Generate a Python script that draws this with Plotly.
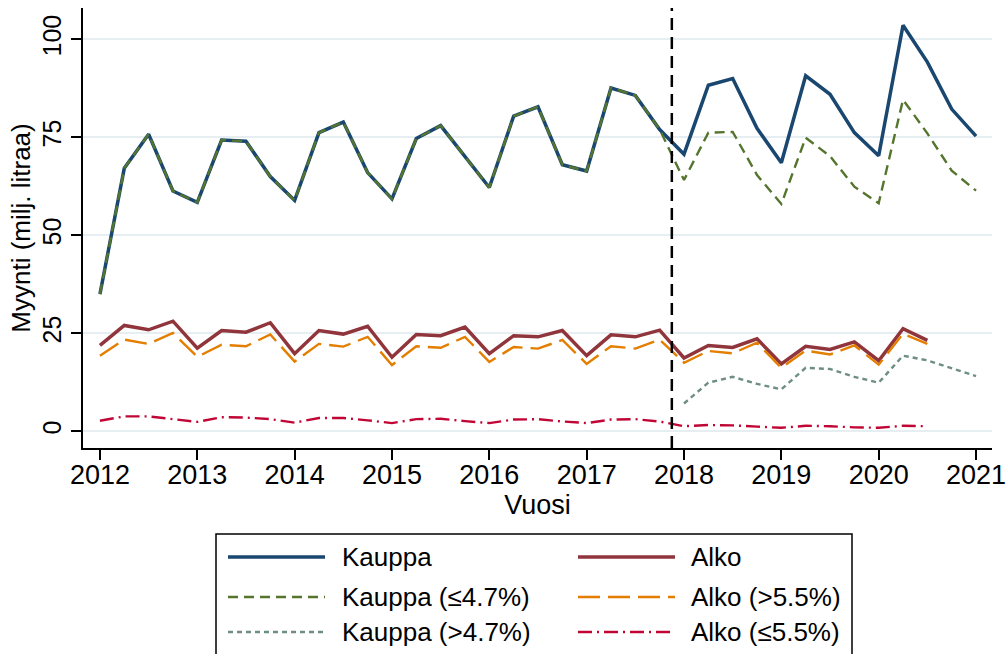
import plotly.graph_objects as go

# ---------------- data (quarterly, million litres) ----------------
quarters = [2012 + q / 4 for q in range(37)]          # 2012Q1 ... 2021Q1
year_ticks = [2012, 2013, 2014, 2015, 2016, 2017, 2018, 2019, 2020, 2021]
y_ticks = [0, 25, 50, 75, 100]
reform_x = 2017.875

kauppa = [35.0, 67.1, 75.8, 61.3,
          58.4, 74.3, 74.0, 65.0,
          58.9, 76.2, 78.9, 66.0,
          59.3, 74.7, 78.0, 70.0,
          62.2, 80.4, 82.8, 68.0,
          66.4, 87.6, 85.7, 77.0,
          70.7, 88.3, 90.0, 77.3,
          68.5, 90.7, 86.0, 76.2,
          70.3, 103.6, 94.2, 82.2,
          75.3]

kauppa_le47 = [35.0, 67.1, 75.8, 61.3,
               58.4, 74.3, 74.0, 65.0,
               58.9, 76.2, 78.9, 66.0,
               59.3, 74.7, 78.0, 70.0,
               62.2, 80.4, 82.8, 68.0,
               66.4, 87.6, 85.7, 77.0,
               64.1, 76.2, 76.4, 65.4,
               58.0, 74.9, 70.2, 62.4,
               58.2, 84.6, 76.0, 66.5,
               61.4]

kauppa_gt47 = [None] * 24 + [7.1, 12.4, 13.9, 12.1,
                             10.7, 16.2, 15.9, 13.9,
                             12.4, 19.3, 18.1, 16.1,
                             14.1]

alko = [21.9, 27.0, 25.9, 28.1,
        21.2, 25.7, 25.3, 27.7,
        19.8, 25.7, 24.8, 26.8,
        18.9, 24.7, 24.4, 26.6,
        19.8, 24.4, 24.1, 25.7,
        19.3, 24.6, 24.1, 25.8,
        18.7, 21.9, 21.4, 23.6,
        17.2, 21.7, 20.9, 22.8,
        18.0, 26.2, 23.2]

alko_gt55 = [19.3, 23.4, 22.3, 25.1,
             19.0, 22.1, 21.7, 24.7,
             17.8, 22.3, 21.6, 24.1,
             16.9, 21.7, 21.3, 24.1,
             17.7, 21.5, 21.1, 23.3,
             17.2, 21.7, 21.1, 23.4,
             17.5, 20.5, 19.9, 22.6,
             16.2, 20.6, 19.6, 21.9,
             17.0, 24.9, 22.3]

alko_le55 = [2.7, 3.8, 3.8, 3.1,
             2.4, 3.6, 3.5, 3.1,
             2.2, 3.4, 3.4, 2.8,
             2.1, 3.1, 3.2, 2.6,
             2.1, 3.0, 3.1, 2.5,
             2.1, 3.0, 3.1, 2.5,
             1.3, 1.6, 1.5, 1.2,
             0.9, 1.4, 1.3, 1.0,
             0.9, 1.4, 1.3]

# ---------------- styles ----------------
FONT = "Liberation Sans, Arial, Helvetica, sans-serif"
series = [
    ("Kauppa", kauppa, "#1a476f", 3.5, "solid"),
    ("Alko", alko, "#90353b", 3.5, "solid"),
    ("Kauppa (≤4.7%)", kauppa_le47, "#55752f", 2.4, "10px,6px"),
    ("Alko (>5.5%)", alko_gt55, "#e37e00", 2.4, "22px,8px"),
    ("Kauppa (>4.7%)", kauppa_gt47, "#6e8e84", 2.4, "5px,4px"),
    ("Alko (≤5.5%)", alko_le55, "#c10534", 2.4, "14px,5px,2px,5px"),
]

W, H = 1008, 654
ML, MR, MT, MB = 83, 16, 8, 206
PW, PH = W - ML - MR, H - MT - MB

fig = go.Figure()
for name, vals, color, width, dash in series:
    fig.add_trace(go.Scatter(
        x=quarters[:len(vals)], y=vals, name=name, mode="lines",
        line=dict(color=color, width=width, dash=dash),
        connectgaps=False, showlegend=False,
    ))

# vertical reference line
fig.add_shape(type="line", xref="x", yref="paper", x0=reform_x, x1=reform_x,
              y0=0, y1=1, line=dict(color="black", width=2.5, dash="12px,7px"))

# ---------------- manual legend ----------------
def px_x(p):
    return (p - ML) / PW

def px_y(p):
    return (H - MB - p) / PH

fig.add_shape(type="rect", xref="paper", yref="paper",
              x0=px_x(216), x1=px_x(852), y0=px_y(534), y1=px_y(662),
              line=dict(color="black", width=1.5), fillcolor="white", layer="below")

row_y = [557, 597, 632]
col_line = [(228, 325, 340), (578, 675, 689)]
for i, (name, vals, color, width, dash) in enumerate(series):
    r, c = i // 2, i % 2
    x0, x1, xt = col_line[c]
    fig.add_shape(type="line", xref="paper", yref="paper",
                  x0=px_x(x0), x1=px_x(x1), y0=px_y(row_y[r]), y1=px_y(row_y[r]),
                  line=dict(color=color, width=width, dash=dash))
    fig.add_annotation(xref="paper", yref="paper", x=px_x(xt), y=px_y(row_y[r]),
                       text=name, showarrow=False, xanchor="left", yanchor="middle",
                       font=dict(size=26, color="black", family=FONT))

fig.update_layout(
    width=W, height=H, autosize=False,
    margin=dict(l=ML, r=MR, t=MT, b=MB, autoexpand=False),
    paper_bgcolor="white", plot_bgcolor="white",
    font=dict(family=FONT, color="black", size=25),
    showlegend=False,
)
fig.update_xaxes(
    range=[2011.826, 2021.164], tickvals=year_ticks, automargin=False,
    ticks="outside", ticklen=10, tickwidth=1.5, tickcolor="black",
    showline=True, linecolor="black", linewidth=1.5,
    showgrid=False, zeroline=False,
    tickfont=dict(size=27), ticklabelstandoff=-8,
    title=dict(text="Vuosi", font=dict(size=27), standoff=0),
)
fig.update_yaxes(
    range=[-4.26, 108], tickvals=y_ticks, tickangle=-90, automargin=False,
    ticks="outside", ticklen=10, tickwidth=1.5, tickcolor="black",
    showline=True, linecolor="black", linewidth=1.5,
    showgrid=True, gridcolor="#e6eef1", gridwidth=1.5, zeroline=False,
    tickfont=dict(size=25),
    title=dict(text="Myynti (milj. litraa)", font=dict(size=26), standoff=0),
)

fig.write_html(
    "out.html",
    config={"displayModeBar": False},
    post_script="document.body.style.margin='0';document.body.style.overflow='hidden';",
)
